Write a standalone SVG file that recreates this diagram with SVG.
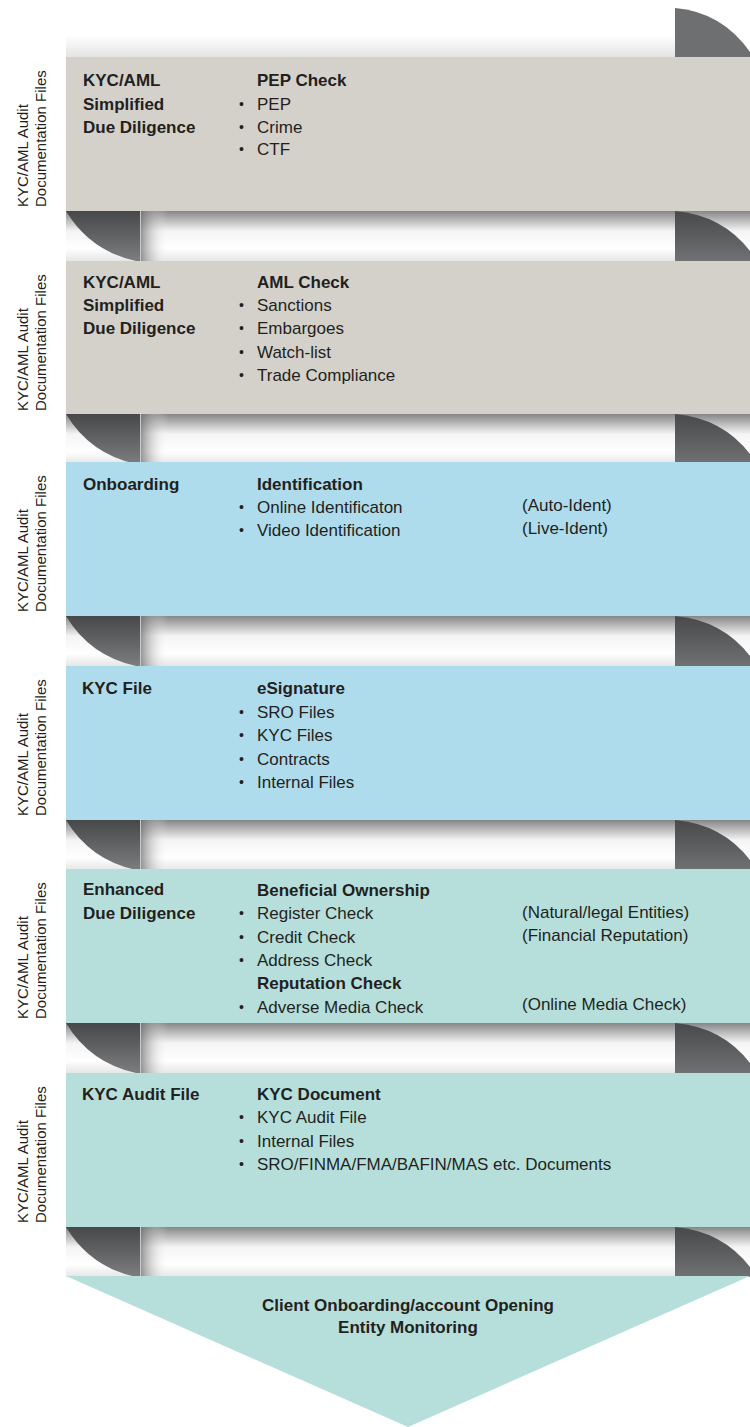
<svg xmlns="http://www.w3.org/2000/svg" xmlns:xlink="http://www.w3.org/1999/xlink" width="750" height="1427" viewBox="0 0 750 1427">
<style>
text{font-family:"Liberation Sans",Arial,sans-serif;fill:#231f20}
.b{font-weight:bold;font-size:17px}
.r{font-size:17px}
.d{font-size:14px}
.side{font-size:15px}
.gray{fill:#d4d1cb}
.blue{fill:#afdcec}
.teal{fill:#b6dfdc}
</style>
<defs>
<linearGradient id="band" x1="0" y1="0" x2="0" y2="1">
<stop offset="0" stop-color="#868686"/>
<stop offset="0.4" stop-color="#f4f4f4"/>
<stop offset="0.75" stop-color="#ffffff"/>
<stop offset="1" stop-color="#e6e6e6"/>
</linearGradient>
<linearGradient id="sideShade" x1="0" y1="0" x2="1" y2="0">
<stop offset="0" stop-color="#6a6a6a" stop-opacity="0.75"/>
<stop offset="1" stop-color="#ffffff" stop-opacity="0"/>
</linearGradient>
<linearGradient id="foldL" x1="0" y1="0" x2="0" y2="1">
<stop offset="0" stop-color="#474849"/>
<stop offset="1" stop-color="#7b7d7e"/>
</linearGradient>
<linearGradient id="foldR" x1="0" y1="0" x2="0" y2="1">
<stop offset="0" stop-color="#48494a"/>
<stop offset="1" stop-color="#6f7172"/>
</linearGradient>
<linearGradient id="topShade" x1="0" y1="0" x2="0" y2="1">
<stop offset="0" stop-color="#ffffff"/>
<stop offset="1" stop-color="#e4e4e4"/>
</linearGradient>
<g id="gap">
<rect x="66" y="0" width="684" height="50" fill="url(#band)"/>
<rect x="140" y="0" width="28" height="50" fill="url(#sideShade)"/>
<path d="M66,0 L140,0 L140,50 L136,50 Q90,40 66,0 Z" fill="url(#foldL)"/>
<line x1="140.5" y1="0" x2="140.5" y2="50" stroke="#c9c9c9" stroke-width="1"/>
<path d="M675,0 Q722,4 750,40 L750,50 L675,50 Z" fill="url(#foldR)"/>
</g>
</defs>

<g id="folds">
<rect x="66" y="35" width="609" height="22" fill="url(#topShade)"/>
<path d="M675,8 Q722,12 750,52 L750,57 L675,57 Z" fill="#6d6f70"/>
<use xlink:href="#gap" href="#gap" y="211"/>
<use xlink:href="#gap" href="#gap" y="414"/>
<use xlink:href="#gap" href="#gap" y="616"/>
<use xlink:href="#gap" href="#gap" y="820"/>
<use xlink:href="#gap" href="#gap" y="1023"/>
<use xlink:href="#gap" href="#gap" y="1227"/>
</g>

<g id="side-labels">
<text class="side" transform="translate(28,207) rotate(-90)">KYC/AML Audit</text>
<text class="side" transform="translate(46,207) rotate(-90)">Documentation  Files</text>
<text class="side" transform="translate(28,411) rotate(-90)">KYC/AML Audit</text>
<text class="side" transform="translate(46,411) rotate(-90)">Documentation  Files</text>
<text class="side" transform="translate(28,612) rotate(-90)">KYC/AML Audit</text>
<text class="side" transform="translate(46,612) rotate(-90)">Documentation  Files</text>
<text class="side" transform="translate(28,816) rotate(-90)">KYC/AML Audit</text>
<text class="side" transform="translate(46,816) rotate(-90)">Documentation  Files</text>
<text class="side" transform="translate(28,1019) rotate(-90)">KYC/AML Audit</text>
<text class="side" transform="translate(46,1019) rotate(-90)">Documentation  Files</text>
<text class="side" transform="translate(28,1223) rotate(-90)">KYC/AML Audit</text>
<text class="side" transform="translate(46,1223) rotate(-90)">Documentation  Files</text>
</g>

<g id="panel-pep">
<rect class="gray" x="66" y="57" width="684" height="154"/>
<text class="b" x="83" y="86">KYC/AML</text>
<text class="b" x="83" y="110">Simplified</text>
<text class="b" x="83" y="133">Due Diligence</text>
<text class="b" x="257" y="86">PEP Check</text>
<text class="d" x="239" y="109">•</text><text class="r" x="257" y="110">PEP</text>
<text class="d" x="239" y="132">•</text><text class="r" x="257" y="133">Crime</text>
<text class="d" x="239" y="154">•</text><text class="r" x="257" y="155">CTF</text>
</g>

<g id="panel-aml">
<rect class="gray" x="66" y="261" width="684" height="153"/>
<text class="b" x="83" y="288">KYC/AML</text>
<text class="b" x="83" y="311">Simplified</text>
<text class="b" x="83" y="334">Due Diligence</text>
<text class="b" x="257" y="288">AML Check</text>
<text class="d" x="239" y="310">•</text><text class="r" x="257" y="311">Sanctions</text>
<text class="d" x="239" y="333">•</text><text class="r" x="257" y="334">Embargoes</text>
<text class="d" x="239" y="357">•</text><text class="r" x="257" y="358">Watch-list</text>
<text class="d" x="239" y="380">•</text><text class="r" x="257" y="381">Trade Compliance</text>
</g>

<g id="panel-onboarding">
<rect class="blue" x="66" y="462" width="684" height="154"/>
<text class="b" x="83" y="490">Onboarding</text>
<text class="b" x="257" y="490">Identification</text>
<text class="d" x="239" y="512">•</text><text class="r" x="257" y="513">Online Identificaton</text>
<text class="d" x="239" y="535">•</text><text class="r" x="257" y="536">Video Identification</text>
<text class="r" x="522" y="511">(Auto-Ident)</text>
<text class="r" x="522" y="534">(Live-Ident)</text>
</g>

<g id="panel-kycfile">
<rect class="blue" x="66" y="666" width="684" height="154"/>
<text class="b" x="82" y="694">KYC File</text>
<text class="b" x="257" y="694">eSignature</text>
<text class="d" x="239" y="717">•</text><text class="r" x="257" y="718">SRO Files</text>
<text class="d" x="239" y="740">•</text><text class="r" x="257" y="741">KYC Files</text>
<text class="d" x="239" y="764">•</text><text class="r" x="257" y="765">Contracts</text>
<text class="d" x="239" y="787">•</text><text class="r" x="257" y="788">Internal Files</text>
</g>

<g id="panel-enhanced">
<rect class="teal" x="66" y="869" width="684" height="154"/>
<text class="b" x="83" y="895">Enhanced</text>
<text class="b" x="83" y="919">Due Diligence</text>
<text class="b" x="257" y="896">Beneficial Ownership</text>
<text class="d" x="239" y="918">•</text><text class="r" x="257" y="919">Register Check</text>
<text class="d" x="239" y="942">•</text><text class="r" x="257" y="943">Credit Check</text>
<text class="d" x="239" y="965">•</text><text class="r" x="257" y="966">Address Check</text>
<text class="b" x="257" y="989">Reputation Check</text>
<text class="d" x="239" y="1012">•</text><text class="r" x="257" y="1013">Adverse Media Check</text>
<text class="r" x="522" y="918">(Natural/legal Entities)</text>
<text class="r" x="522" y="941">(Financial Reputation)</text>
<text class="r" x="522" y="1010">(Online Media Check)</text>
</g>

<g id="panel-audit">
<rect class="teal" x="66" y="1073" width="684" height="154"/>
<text class="b" x="82" y="1100">KYC Audit File</text>
<text class="b" x="257" y="1100">KYC Document</text>
<text class="d" x="239" y="1122">•</text><text class="r" x="257" y="1123">KYC Audit File</text>
<text class="d" x="239" y="1146">•</text><text class="r" x="257" y="1147">Internal Files</text>
<text class="d" x="239" y="1169">•</text><text class="r" x="257" y="1170">SRO/FINMA/FMA/BAFIN/MAS etc. Documents</text>
</g>

<g id="arrow-result">
<polygon class="teal" points="66,1276 750,1276 408,1427"/>
<text class="b" x="408" y="1311" text-anchor="middle">Client Onboarding/account Opening</text>
<text class="b" x="408" y="1333" text-anchor="middle">Entity Monitoring</text>
</g>
</svg>
